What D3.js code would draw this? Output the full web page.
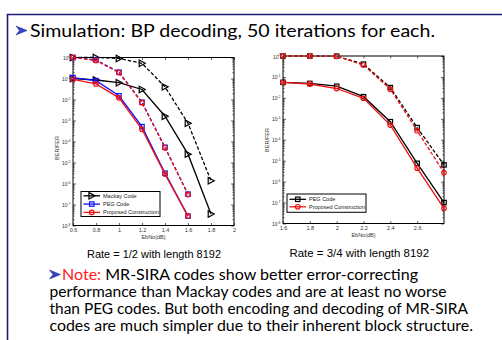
<!DOCTYPE html>
<html>
<head>
<meta charset="utf-8">
<script src="https://cdn.jsdelivr.net/npm/d3@7"></script>
<style>
  body { margin: 0; background: #fff; }
  svg { display: block; }
  .slide { font-family: Lato, "Open Sans", sans-serif; }
  .ax { font-family: "Liberation Sans", Arial, sans-serif; }
</style>
</head>
<body>
<svg id="chart" width="502" height="340"></svg>
<script>
// ---- data ----
// Rate 1/2
var xMackay = [0.6, 0.8, 1.0, 1.2, 1.4, 1.6, 1.8];
var xPeg1 = [0.6, 0.8, 1.0, 1.2, 1.4, 1.6];
var mackayFER = [1.0, 1.0, 0.9, 0.53, 0.04, 7.4e-4, 1.35e-6];
var mackayBER = [0.1, 0.085, 0.063, 0.03, 1.6e-3, 2.5e-5, 3.5e-8];
var pegFER1 = [1.0, 0.76, 0.2, 7.4e-3, 5.3e-5, 3.1e-7];
var propFER1 = [1.0, 0.72, 0.19, 7e-3, 5e-5, 3e-7];
var pegBER1 = [0.11, 0.079, 0.015, 5.1e-4, 3.1e-6, 2.8e-8];
var propBER1 = [0.09, 0.055, 0.012, 3.8e-4, 2.8e-6, 2.8e-8];
var xTicks1 = [0.6, 0.8, 1, 1.2, 1.4, 1.6, 1.8, 2];

// Rate 3/4
var xRate34 = [1.6, 1.8, 2.0, 2.2, 2.4, 2.6, 2.8];
var pegFER2 = [1.0, 1.0, 0.98, 0.41, 0.031, 3.8e-4, 6.3e-6];
var propFER2 = [1.0, 1.0, 0.97, 0.37, 0.026, 2.7e-4, 2.7e-6];
var pegBER2 = [0.055, 0.049, 0.036, 0.0114, 7.3e-4, 7.5e-6, 1.0e-7];
var propBER2 = [0.055, 0.046, 0.028, 0.0095, 5e-4, 4.4e-6, 5.3e-8];
var xTicks2 = [1.6, 1.8, 2, 2.2, 2.4, 2.6];

var yDecades = [0, -1, -2, -3, -4, -5, -6, -7, -8];

var svg = d3.select("#chart");

// slide frame
svg.append("path")
  .attr("d", "M7.5,340 V14.5 H502")
  .attr("fill", "none").attr("stroke", "#1c1c78").attr("stroke-width", 1.6);

function bullet(x, y) {
  svg.append("path")
    .attr("d", "M" + x + "," + (y - 9) + " L" + (x + 11) + "," + (y - 4.5) + " L" + x + "," + y + " L" + (x + 3.5) + "," + (y - 4.5) + " Z")
    .attr("fill", "#3344cc").attr("stroke", "#1a1a80").attr("stroke-width", 0.5);
}

bullet(16, 35);
svg.append("text").attr("class", "slide")
  .attr("x", 30).attr("y", 36.5)
  .attr("font-size", 18)
  .attr("textLength", 405).attr("lengthAdjust", "spacingAndGlyphs")
  .text("Simulation: BP decoding, 50 iterations for each.");

// ---- chart drawing ----
function drawPanel(box, xDomain, xTicks, series, legendItems, legendBox, ylabCenter) {
  var x = d3.scaleLinear().domain(xDomain).range([box.x0, box.x1]);
  var y = d3.scaleLog().domain([1e-8, 1]).range([box.y1, box.y0]);
  var g = svg.append("g").attr("class", "ax");

  // white plot background + box
  g.append("rect")
    .attr("x", box.x0).attr("y", box.y0)
    .attr("width", box.x1 - box.x0).attr("height", box.y1 - box.y0)
    .attr("fill", "#fff").attr("stroke", "#000").attr("stroke-width", 1);

  // bottom axis (ticks inward)
  var xb = g.append("g").attr("transform", "translate(0," + box.y1 + ")")
    .call(d3.axisBottom(x).tickValues(xTicks).tickSize(-2.5).tickPadding(2.5)
      .tickFormat(function(d) { return d3.format("~g")(d); }));
  xb.select(".domain").remove();
  xb.selectAll("text").attr("font-size", 5.5).attr("fill", "#333");
  var xt = g.append("g").attr("transform", "translate(0," + box.y0 + ")")
    .call(d3.axisTop(x).tickValues(xTicks).tickSize(-2.5).tickFormat(""));
  xt.select(".domain").remove();

  // left axis: decades with labels, minor ticks
  var minors = [];
  for (var e = -8; e < 0; e++) for (var m = 2; m <= 9; m++) minors.push(m * Math.pow(10, e));
  var yl = g.append("g").attr("transform", "translate(" + box.x0 + ",0)")
    .call(d3.axisLeft(y).tickValues(yDecades.map(function(p) { return Math.pow(10, p); }))
      .tickSize(-3).tickPadding(3).tickFormat(""));
  yl.select(".domain").remove();
  yl.selectAll(".tick").each(function(d) {
    var t = d3.select(this).append("text")
      .attr("x", -2.5).attr("dy", "0.4em").attr("text-anchor", "end")
      .attr("font-size", 5).attr("fill", "#333");
    t.append("tspan").text("10");
    t.append("tspan").attr("dy", -2.2).attr("font-size", 3.4).text(Math.round(Math.log10(d)));
  });
  var ym = g.append("g").attr("transform", "translate(" + box.x0 + ",0)")
    .call(d3.axisLeft(y).tickValues(minors).tickSize(-1.6).tickFormat(""));
  ym.select(".domain").remove();
  var yr = g.append("g").attr("transform", "translate(" + box.x1 + ",0)")
    .call(d3.axisRight(y).tickValues(yDecades.map(function(p) { return Math.pow(10, p); }))
      .tickSize(-3).tickFormat(""));
  yr.select(".domain").remove();
  var yrm = g.append("g").attr("transform", "translate(" + box.x1 + ",0)")
    .call(d3.axisRight(y).tickValues(minors).tickSize(-1.6).tickFormat(""));
  yrm.select(".domain").remove();
  g.selectAll(".tick line").attr("stroke", "#000").attr("stroke-width", 0.6);

  // axis labels
  g.append("text")
    .attr("x", (box.x0 + box.x1) / 2).attr("y", box.y1 + 13.5)
    .attr("text-anchor", "middle").attr("font-size", 5.5).attr("fill", "#333")
    .text("EbNo(dB)");
  g.append("text")
    .attr("transform", "translate(" + (box.x0 - 14) + "," + ylabCenter + ") rotate(-90)")
    .attr("text-anchor", "middle").attr("font-size", 5.5).attr("fill", "#333")
    .text("BER/FER");

  // lines + markers
  var line = d3.line().x(function(d) { return x(d[0]); }).y(function(d) { return y(d[1]); });
  series.forEach(function(s) {
    var pts = s.xs.map(function(v, i) { return [v, s.ys[i]]; });
    g.append("path").datum(pts)
      .attr("d", line).attr("fill", "none")
      .attr("stroke", s.color).attr("stroke-width", 1.3)
      .attr("stroke-dasharray", s.dash ? "3.5,2" : null);
    pts.forEach(function(p) { marker(g, s.marker, x(p[0]), y(p[1]), s.color); });
  });

  // legend
  var lg = g.append("g");
  lg.append("rect")
    .attr("x", legendBox.x).attr("y", legendBox.y)
    .attr("width", legendBox.w).attr("height", legendBox.h)
    .attr("fill", "#fff").attr("stroke", "#000").attr("stroke-width", 1);
  legendItems.forEach(function(it, i) {
    var ly = legendBox.y + legendBox.pad + i * legendBox.step;
    lg.append("line")
      .attr("x1", legendBox.x + 2.5).attr("x2", legendBox.x + 19)
      .attr("y1", ly).attr("y2", ly)
      .attr("stroke", it.color).attr("stroke-width", 1.3);
    marker(lg, it.marker, legendBox.x + 10.75, ly, it.color);
    lg.append("text")
      .attr("x", legendBox.x + 22).attr("y", ly).attr("dy", "0.35em")
      .attr("font-size", 5.5).attr("fill", "#222")
      .text(it.label);
  });
}

function marker(g, kind, cx, cy, color) {
  if (kind === "tri") {
    g.append("path")
      .attr("d", "M" + (cx - 2.8) + "," + (cy - 3.2) + " L" + (cx + 3.2) + "," + cy + " L" + (cx - 2.8) + "," + (cy + 3.2) + " Z")
      .attr("fill", "none").attr("stroke", color).attr("stroke-width", 1.2);
  } else if (kind === "sq") {
    g.append("rect")
      .attr("x", cx - 2.2).attr("y", cy - 2.2).attr("width", 4.4).attr("height", 4.4)
      .attr("fill", "none").attr("stroke", color).attr("stroke-width", 1.2);
  } else {
    g.append("circle")
      .attr("cx", cx).attr("cy", cy).attr("r", 2.3)
      .attr("fill", "none").attr("stroke", color).attr("stroke-width", 1.2);
  }
}

// left panel: rate 1/2
drawPanel(
  { x0: 73, x1: 234, y0: 57.5, y1: 225.5 },
  [0.6, 2.0], xTicks1,
  [
    { xs: xMackay, ys: mackayFER, color: "#000", dash: true, marker: "tri" },
    { xs: xMackay, ys: mackayBER, color: "#000", dash: false, marker: "tri" },
    { xs: xPeg1, ys: pegFER1, color: "#1010ff", dash: true, marker: "sq" },
    { xs: xPeg1, ys: pegBER1, color: "#1010ff", dash: false, marker: "sq" },
    { xs: xPeg1, ys: propFER1, color: "#ee1111", dash: true, marker: "circ" },
    { xs: xPeg1, ys: propBER1, color: "#ee1111", dash: false, marker: "circ" }
  ],
  [
    { label: "Mackay Code", color: "#000", marker: "tri" },
    { label: "PEG Code", color: "#1010ff", marker: "sq" },
    { label: "Proposed Construction", color: "#ee1111", marker: "circ" }
  ],
  { x: 81, y: 191.5, w: 79, h: 25, pad: 4.3, step: 8.3 },
  148
);

// right panel: rate 3/4
drawPanel(
  { x0: 283, x1: 444, y0: 56, y1: 223.5 },
  [1.6, 2.8], xTicks2,
  [
    { xs: xRate34, ys: pegFER2, color: "#000", dash: true, marker: "sq" },
    { xs: xRate34, ys: pegBER2, color: "#000", dash: false, marker: "sq" },
    { xs: xRate34, ys: propFER2, color: "#ee1111", dash: true, marker: "circ" },
    { xs: xRate34, ys: propBER2, color: "#ee1111", dash: false, marker: "circ" }
  ],
  [
    { label: "PEG Code", color: "#000", marker: "sq" },
    { label: "Proposed Construction", color: "#ee1111", marker: "circ" }
  ],
  { x: 287, y: 194, w: 79, h: 18.3, pad: 5.3, step: 7.5 },
  140
);

// captions
svg.append("text").attr("class", "ax")
  .attr("x", 87).attr("y", 257.5).attr("font-size", 11.5)
  .attr("textLength", 134).attr("lengthAdjust", "spacingAndGlyphs")
  .text("Rate = 1/2 with length 8192");
svg.append("text").attr("class", "ax")
  .attr("x", 289.5).attr("y", 257).attr("font-size", 11.5)
  .attr("textLength", 139.5).attr("lengthAdjust", "spacingAndGlyphs")
  .text("Rate = 3/4 with length 8192");

// note
var noteLines = [
  "performance than Mackay codes and are at least no worse",
  "than PEG codes. But both encoding and decoding of MR-SIRA",
  "codes are much simpler due to their inherent block structure."
];
var noteEnds = [446.5, 468, 473];
bullet(49.5, 279);
var n1 = svg.append("text").attr("class", "slide")
  .attr("x", 62).attr("y", 280).attr("font-size", 15.5)
  .attr("textLength", 356).attr("lengthAdjust", "spacingAndGlyphs");
n1.append("tspan").attr("fill", "#ff1a1a").text("Note: ");
n1.append("tspan").attr("fill", "#000").text("MR-SIRA codes show better error-correcting");
noteLines.forEach(function(t, i) {
  svg.append("text").attr("class", "slide")
    .attr("x", 49.5).attr("y", 297.3 + i * 16.8).attr("font-size", 15.5)
    .attr("textLength", noteEnds[i] - 49.5).attr("lengthAdjust", "spacingAndGlyphs")
    .text(t);
});
</script>
</body>
</html>
